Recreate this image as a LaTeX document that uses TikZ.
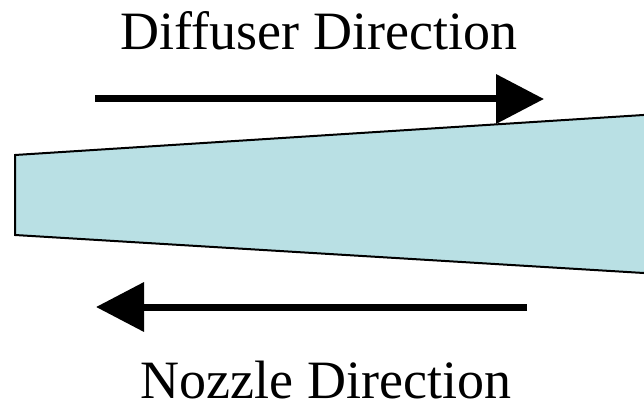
\documentclass[tikz,border=0pt]{standalone}
\usepackage{fontspec}
\setmainfont{Liberation Serif}
\usetikzlibrary{arrows.meta}
\definecolor{ductfill}{RGB}{185,224,228}

\begin{document}
\begin{tikzpicture}[x=1pt, y=-1pt,
  label/.style={font=\fontsize{54}{60}\selectfont, anchor=base, inner sep=0pt},
  dirarr/.style={line width=7pt, -{Triangle[length=48pt, width=48pt]}},
  duct/.style={draw, line width=2pt, fill=ductfill}
]
\clip (0,0) rectangle (644,403);
\useasboundingbox (0,0) rectangle (644,403);
% cone
\draw[duct] (15,155) -- (700,111.4) -- (700,276.4) -- (15,235) -- cycle;
% arrows
\coordinate (dstart) at (95,99);
\coordinate (dend) at (544,99);
\coordinate (nstart) at (527,307);
\coordinate (nend) at (96,307);
\draw[dirarr] (dstart) -- (dend);
\draw[dirarr] (nstart) -- (nend);
% labels
\node[label] (diffuser) at (319,50) {Diffuser Direction};
\node[label] (nozzle) at (326,398) {Nozzle Direction};
\end{tikzpicture}
\end{document}
